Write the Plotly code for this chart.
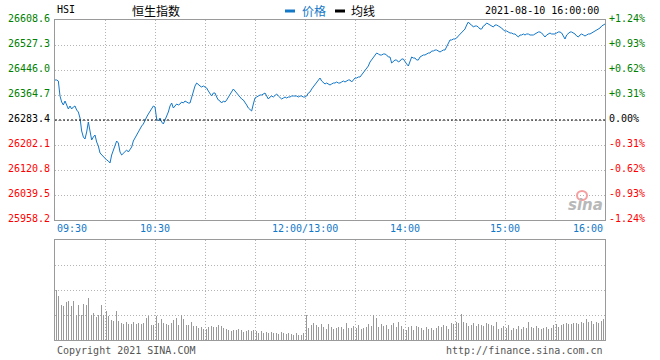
import plotly.graph_objects as go

# ---------------- data ----------------
price = [
    26413.5, 26413.5, 26410.2, 26361.4, 26341.9, 26332.2, 26345.2, 26328.9, 26319.2, 26328.9,
    26319.2, 26325.7, 26328.9, 26315.9, 26309.4, 26289.9, 26247.6, 26228.1, 26221.6, 26244.4,
    26276.9, 26247.6, 26218.4, 26228.1, 26234.6, 26211.9, 26198.9, 26176.1, 26169.6, 26163.1,
    26159.8, 26153.3, 26150.1, 26143.6, 26169.6, 26185.8, 26202.1, 26215.1, 26208.6, 26179.3,
    26169.6, 26176.1, 26179.3, 26185.8, 26179.3, 26185.8, 26195.6, 26215.1, 26224.9, 26234.6,
    26247.6, 26257.4, 26263.9, 26270.4, 26283.4, 26293.2, 26302.9, 26312.7, 26322.4, 26328.9,
    26325.7, 26286.7, 26280.1, 26289.9, 26276.9, 26270.4, 26283.4, 26296.4, 26309.4, 26328.9,
    26338.7, 26322.4, 26328.9, 26335.4, 26332.2, 26335.4, 26341.9, 26338.7, 26345.2, 26341.9,
    26338.7, 26338.7, 26358.2, 26374.5, 26394.0, 26403.7, 26397.2, 26394.0, 26390.7, 26394.0,
    26390.7, 26387.5, 26377.7, 26371.2, 26361.4, 26371.2, 26371.2, 26358.2, 26348.4, 26345.2,
    26338.7, 26345.2, 26341.9, 26348.4, 26358.2, 26368.0, 26374.5, 26384.2, 26377.7, 26371.2,
    26361.4, 26354.9, 26351.7, 26348.4, 26341.9, 26332.2, 26322.4, 26315.9, 26312.7, 26335.4,
    26354.9, 26358.2, 26361.4, 26364.7, 26364.7, 26368.0, 26371.2, 26361.4, 26351.7, 26358.2,
    26361.4, 26358.2, 26364.7, 26368.0, 26361.4, 26354.9, 26351.7, 26354.9, 26358.2, 26354.9,
    26358.2, 26358.2, 26361.4, 26361.4, 26361.4, 26361.4, 26358.2, 26361.4, 26361.4, 26358.2,
    26358.2,
    26361.4, 26371.2, 26374.5, 26384.2, 26390.7, 26397.2, 26403.7, 26413.5, 26420.0, 26410.2,
    26403.7, 26400.5, 26403.7, 26400.5, 26397.2, 26400.5, 26403.7, 26403.7, 26407.0, 26403.7,
    26403.7, 26407.0, 26410.2, 26407.0, 26410.2, 26413.5, 26413.5, 26407.0, 26413.5, 26420.0,
    26420.0, 26423.2, 26423.2, 26429.7, 26436.2, 26442.8, 26449.3, 26459.0, 26472.0, 26478.5,
    26488.3, 26494.8, 26501.3, 26498.0, 26494.8, 26494.8, 26498.0, 26498.0, 26494.8, 26488.3,
    26488.3, 26468.8, 26475.3, 26478.5, 26478.5, 26472.0, 26475.3, 26481.8, 26481.8, 26472.0,
    26465.5, 26459.0, 26475.3, 26488.3, 26485.0, 26485.0, 26478.5, 26478.5, 26488.3, 26491.5,
    26494.8, 26494.8, 26498.0, 26501.3, 26501.3, 26507.8, 26507.8, 26511.0, 26511.0, 26507.8,
    26504.5, 26507.8, 26511.0, 26511.0, 26520.8, 26533.8, 26543.6, 26543.6, 26546.8, 26546.8,
    26550.1, 26556.6, 26563.1, 26566.3, 26572.8, 26579.3, 26592.3, 26602.1, 26595.6, 26592.3,
    26585.8, 26589.1, 26589.1, 26585.8, 26579.3, 26579.3, 26589.1, 26592.3, 26598.8, 26595.6,
    26592.3, 26589.1, 26585.8, 26592.3, 26592.3, 26589.1, 26585.8, 26582.6, 26576.1, 26572.8,
    26572.8, 26569.6, 26566.3, 26566.3, 26563.1, 26563.1, 26556.6, 26553.3, 26559.8, 26559.8,
    26563.1, 26559.8, 26563.1, 26563.1, 26559.8, 26559.8, 26559.8, 26563.1, 26566.3, 26569.6,
    26569.6, 26566.3, 26559.8, 26553.3, 26559.8, 26563.1, 26566.3, 26563.1, 26563.1, 26563.1,
    26566.3, 26569.6, 26569.6, 26566.3, 26556.6, 26546.8, 26559.8, 26566.3, 26569.6, 26569.6,
    26566.3, 26563.1, 26556.6, 26553.3, 26559.8, 26563.1, 26559.8, 26556.6, 26559.8, 26563.1,
    26563.1, 26566.3, 26569.6, 26572.8, 26576.1, 26579.3, 26582.6, 26589.1, 26592.3, 26595.6,
]

volume = [
    55, 50, 44, 37, 35, 34, 36, 38, 39, 42,
    34, 39, 42, 25, 35, 31, 25, 36, 31, 35,
    42, 28, 25, 27, 24, 23, 25, 23, 35, 25,
    25, 29, 24, 23, 20, 19, 21, 29, 19, 18,
    17, 16, 17, 18, 16, 17, 16, 18, 17, 16,
    17, 18, 16, 17, 26, 22, 24, 18, 15, 15,
    13, 24, 17, 20, 21, 17, 19, 16, 15, 16,
    17, 20, 18, 22, 15, 24, 25, 21, 17, 15,
    15, 16, 18, 14, 12, 14, 12, 14, 13, 11,
    10, 11, 13, 11, 14, 13, 11, 13, 15, 12,
    14, 12, 13, 11, 10, 10, 9, 10, 9, 10,
    11, 9, 10, 8, 9, 9, 10, 8, 9, 10,
    8, 9, 7, 8, 9, 7, 6, 8, 7, 6,
    8, 7, 6, 7, 6, 7, 8, 7, 6, 6,
    7, 5, 6, 5, 6, 7, 5, 6, 5, 7,
    6,
    25, 12, 13, 15, 17, 17, 15, 13, 16, 16,
    13, 14, 11, 16, 17, 13, 11, 14, 12, 13,
    14, 13, 11, 14, 17, 12, 11, 12, 14, 13,
    12, 15, 13, 11, 12, 14, 13, 16, 17, 14,
    25, 25, 22, 13, 12, 16, 14, 19, 15, 11,
    13, 15, 17, 16, 13, 18, 12, 14, 11, 13,
    10, 13, 12, 14, 10, 11, 14, 13, 11, 12,
    10, 12, 13, 11, 14, 12, 10, 13, 12, 14,
    11, 13, 15, 12, 14, 11, 13, 17, 16, 14,
    18, 17, 15, 26, 18, 16, 17, 14, 16, 15,
    17, 12, 14, 16, 13, 15, 14, 12, 17, 16,
    13, 15, 14, 12, 18, 11, 13, 12, 14, 13,
    12, 15, 13, 10, 12, 13, 11, 14, 12, 11,
    13, 10, 12, 18, 11, 13, 12, 10, 14, 12,
    13, 11, 12, 15, 13, 11, 14, 12, 15, 13,
    16, 13, 12, 15, 16, 14, 17, 16, 15, 16,
    17, 14, 17, 16, 17, 18, 17, 16, 21, 18,
    17, 19, 16, 17, 18, 17, 18, 19, 21, 24,
]

prev_close = 26283.4
price_ticks = [26608.6, 26527.3, 26446.0, 26364.7, 26283.4, 26202.1, 26120.8, 26039.5, 25958.2]
pct_labels = ["+1.24%", "+0.93%", "+0.62%", "+0.31%", "0.00%", "-0.31%", "-0.62%", "-0.93%", "-1.24%"]
time_ticks = [0, 60, 150, 210, 270, 330]
time_labels = ["09:30", "10:30", "12:00/13:00", "14:00", "15:00", "16:00"]

symbol = "HSI"
title = "恒生指数"
stamp = "2021-08-10 16:00:00"

# ---------------- styles ----------------
W, H = 660, 360
MONO = "DejaVu Sans Mono"
CJK = "Noto Sans CJK SC"
BLUE = "#1478c8"
GRID = "#b4b4b4"
BORDER = "#9a9a9a"
GREEN = "#008000"
RED = "#ff0000"

xpos = list(range(len(price)))
vpos = list(range(len(volume)))

fig = go.Figure()
fig.add_trace(go.Scatter(x=xpos, y=price, mode="lines",
                         line=dict(color=BLUE, width=1), xaxis="x", yaxis="y",
                         hoverinfo="skip"))
fig.add_trace(go.Bar(x=vpos, y=volume, width=0.55, marker=dict(color="#999999", line=dict(width=0)),
                     xaxis="x2", yaxis="y2", hoverinfo="skip"))

ax_common = dict(showgrid=True, gridcolor=GRID, griddash="1px,2px", gridwidth=1,
                 showline=True, mirror=True, linecolor=BORDER, linewidth=1,
                 zeroline=False, showticklabels=False, ticks="", fixedrange=True)

fig.update_layout(
    width=W, height=H, margin=dict(l=0, r=0, t=0, b=0),
    paper_bgcolor="white", plot_bgcolor="white", showlegend=False, bargap=0,
    xaxis=dict(domain=[55 / W, 605 / W], range=[0, 330], tick0=0, dtick=30, anchor="y", **ax_common),
    yaxis=dict(domain=[140 / H, 340 / H], range=[price_ticks[-1], price_ticks[0]],
               tick0=price_ticks[-1], dtick=round(price_ticks[0] - price_ticks[1], 1), anchor="x", **ax_common),
    xaxis2=dict(domain=[55 / W, 605 / W], range=[0, 330], tick0=0, dtick=30, anchor="y2", matches="x", **ax_common),
    yaxis2=dict(domain=[20 / H, 120 / H], range=[0, 100], tick0=0, dtick=25, anchor="x2", **ax_common),
)

# previous close dashed line
fig.add_shape(type="line", xref="x", yref="y", x0=0, x1=330, y0=prev_close, y1=prev_close,
              line=dict(color="black", width=1, dash="2px,2px"))

ann = []
for v, p in zip(price_ticks, pct_labels):
    col = GREEN if v > prev_close + 0.01 else (RED if v < prev_close - 0.01 else "black")
    ann.append(dict(x=52 / W, xref="paper", y=v, yref="y", text=f"{v:.1f}", showarrow=False,
                    xanchor="right", yanchor="middle", yshift=2, font=dict(family=MONO, size=10, color=col)))
    ann.append(dict(x=607 / W, xref="paper", y=v, yref="y", text=p, showarrow=False,
                    xanchor="left", yanchor="middle", yshift=2, font=dict(family=MONO, size=10, color=col)))
for i, (t, lab) in enumerate(zip(time_ticks, time_labels)):
    anchor = "left" if i == 0 else ("right" if i == len(time_ticks) - 1 else "center")
    ann.append(dict(x=t, xref="x", y=(H - 228) / H, yref="paper", text=lab, showarrow=False,
                    xanchor=anchor, yanchor="middle", font=dict(family=MONO, size=10, color=BLUE)))

ann.append(dict(x=55 / W, y=(H - 9) / H, xref="paper", yref="paper", text=symbol, showarrow=False,
                xanchor="left", yanchor="middle", font=dict(family=MONO, size=10, color="black")))
ann.append(dict(x=130 / W, y=(H - 10) / H, xref="paper", yref="paper", text=title, showarrow=False,
                xanchor="left", yanchor="middle", font=dict(family=CJK, size=12, color="black")))
ann.append(dict(x=300 / W, y=(H - 10) / H, xref="paper", yref="paper", text="价格", showarrow=False,
                xanchor="left", yanchor="middle", font=dict(family=CJK, size=12, color=BLUE)))
ann.append(dict(x=349 / W, y=(H - 10) / H, xref="paper", yref="paper", text="均线", showarrow=False,
                xanchor="left", yanchor="middle", font=dict(family=CJK, size=12, color="black")))
ann.append(dict(x=601 / W, y=(H - 10) / H, xref="paper", yref="paper", text=stamp, showarrow=False,
                xanchor="right", yanchor="middle", font=dict(family=MONO, size=10, color="black")))
ann.append(dict(x=55 / W, y=(H - 350) / H, xref="paper", yref="paper", text="Copyright 2021 SINA.COM",
                showarrow=False, xanchor="left", yanchor="middle",
                font=dict(family=MONO, size=10, color="#555555")))
ann.append(dict(x=605 / W, y=(H - 350) / H, xref="paper", yref="paper", text="http://finance.sina.com.cn",
                showarrow=False, xanchor="right", yanchor="middle",
                font=dict(family=MONO, size=10, color="#555555")))
ann.append(dict(x=585 / W, y=(H - 205) / H, xref="paper", yref="paper", text="<b><i>sina</i></b>",
                showarrow=False, xanchor="center", yanchor="middle",
                font=dict(family="DejaVu Sans", size=15, color="#b8b8b8")))
fig.update_layout(annotations=ann)

fig.add_shape(type="line", xref="paper", yref="paper", x0=285 / W, x1=295 / W,
              y0=(H - 11) / H, y1=(H - 11) / H, line=dict(color=BLUE, width=3))
fig.add_shape(type="line", xref="paper", yref="paper", x0=335 / W, x1=345 / W,
              y0=(H - 11) / H, y1=(H - 11) / H, line=dict(color="black", width=3))
fig.add_shape(type="circle", xref="paper", yref="paper", x0=577 / W, x1=587 / W,
              y0=(H - 200) / H, y1=(H - 191) / H, line=dict(color="#f4a0a0", width=2),
              fillcolor="rgba(255,255,255,0)")

fig.write_html("out.html", config={"displayModeBar": False, "staticPlot": True},
               post_script="document.body.style.margin='0';document.body.style.padding='0';"
                           "document.body.style.overflow='hidden';")
